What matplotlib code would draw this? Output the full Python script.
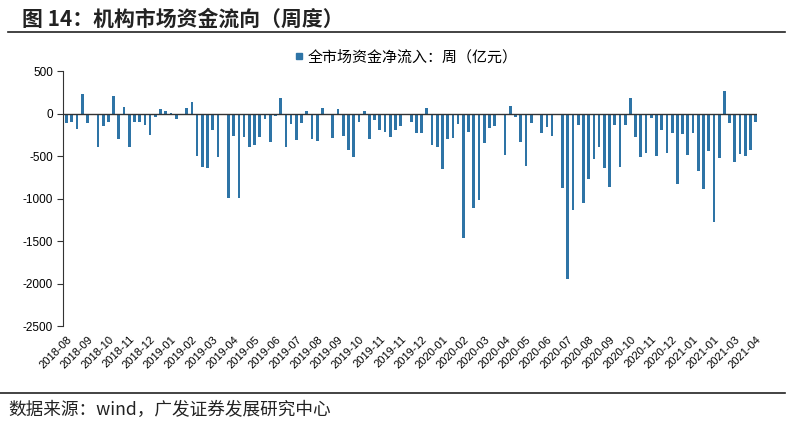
import matplotlib
matplotlib.use("Agg")
import matplotlib.pyplot as plt
from matplotlib.lines import Line2D
import numpy as np

# 全市场资金净流入：周（亿元），按周读图估计
flow = [
    -113, -105, -180, 230, -113, -5, -398, -152, -105, 210,
    -300, 74, -394, -101, -101, -140, -250, -43, 55, 31,
    8, -66, 0, 62, 140, -500, -628, -636, -199, -507,
    -15, -990, -270, -990, -273, -390, -370, -277, -66, -335,
    -27, 180, -398, -121, -312, -109, 31, -296, -324, 66,
    -23, -289, 55, -269, -433, -511, -98, 31, -300, -82,
    -195, -218, -281, -195, -152, 0, -101, -230, -230, 66,
    -374, -390, -647, -304, -285, -125, -1466, -218, -1108, -1018,
    -347, -175, -148, 0, -484, 86, -39, -339, -612, -117,
    0, -230, -164, -269, 0, -878, -1950, -1139, -133, -1057,
    -768, -538, -394, -644, -862, -133, -632, -137, 179, -273,
    -507, -460, -47, -495, -191, -460, -230, -835, -238, -491,
    -230, -675, -889, -441, -1271, -523, 269, -109, -569, -476,
    -503, -425, -98,
]

# 每4周一个标签
tick_labels = [
    "2018-08", "2018-09", "2018-10", "2018-11", "2018-12",
    "2019-01", "2019-02", "2019-03", "2019-04", "2019-05", "2019-06",
    "2019-07", "2019-08", "2019-09", "2019-10", "2019-11", "2019-11",
    "2019-12", "2020-01", "2020-02", "2020-03", "2020-04", "2020-05",
    "2020-06", "2020-07", "2020-08", "2020-09", "2020-10", "2020-11",
    "2020-12", "2021-01", "2021-01", "2021-03", "2021-04",
]
y_ticks = [500, 0, -500, -1000, -1500, -2000, -2500]

title = "图 14：机构市场资金流向（周度）"
legend_label = "全市场资金净流入：周（亿元）"
source = "数据来源：wind，广发证券发展研究中心"

cjk = ["Noto Sans CJK SC", "DejaVu Sans"]
bar_color = "#2E74A6"

fig = plt.figure(figsize=(7.93, 4.26), dpi=100)
ax = fig.add_axes([0.0794, 0.2347, 0.8752, 0.5986])

x = np.arange(len(flow))
ax.bar(x, flow, width=0.52, color=bar_color, zorder=2)
ax.axhline(0, color="#333333", linewidth=1.0, zorder=3)

ax.set_xlim(-0.7, len(flow) - 0.75)
ax.set_ylim(-2500, 500)
ax.set_yticks(y_ticks)
ax.set_yticklabels([str(v) for v in y_ticks], family="Liberation Sans", fontsize=8.5)
ax.tick_params(axis="y", direction="out", length=4, width=0.8, pad=3, color="#333333")

ax.set_xticks(x[::4])
ax.set_xticklabels(tick_labels, rotation=45, ha="right", rotation_mode="anchor",
                   family="Liberation Sans", fontsize=8)
ax.tick_params(axis="x", length=0, pad=6)

for side in ["top", "right", "bottom"]:
    ax.spines[side].set_visible(False)
ax.spines["left"].set_color("#333333")
ax.spines["left"].set_linewidth(0.8)

# 标题和上下两条横线
fig.text(0.028, 0.955, title, family=cjk, fontsize=15, fontweight="bold",
         va="center", ha="left", color="#222222")
fig.add_artist(Line2D([0.01, 0.99], [0.925, 0.925], color="#222222", linewidth=1.2))
fig.add_artist(Line2D([0.0, 0.99], [0.078, 0.078], color="#222222", linewidth=1.2))
fig.text(0.01, 0.037, source, family=cjk, fontsize=12.7, va="center", ha="left",
         color="#222222")

handle = Line2D([], [], marker="s", linestyle="none", markersize=5,
                color=bar_color)
fig.legend([handle], [legend_label], loc="center", bbox_to_anchor=(0.511, 0.866),
           frameon=False, prop={"family": cjk, "size": 10.8}, handletextpad=0.2,
           handlelength=0.8)

fig.savefig("out.png", dpi=100)
